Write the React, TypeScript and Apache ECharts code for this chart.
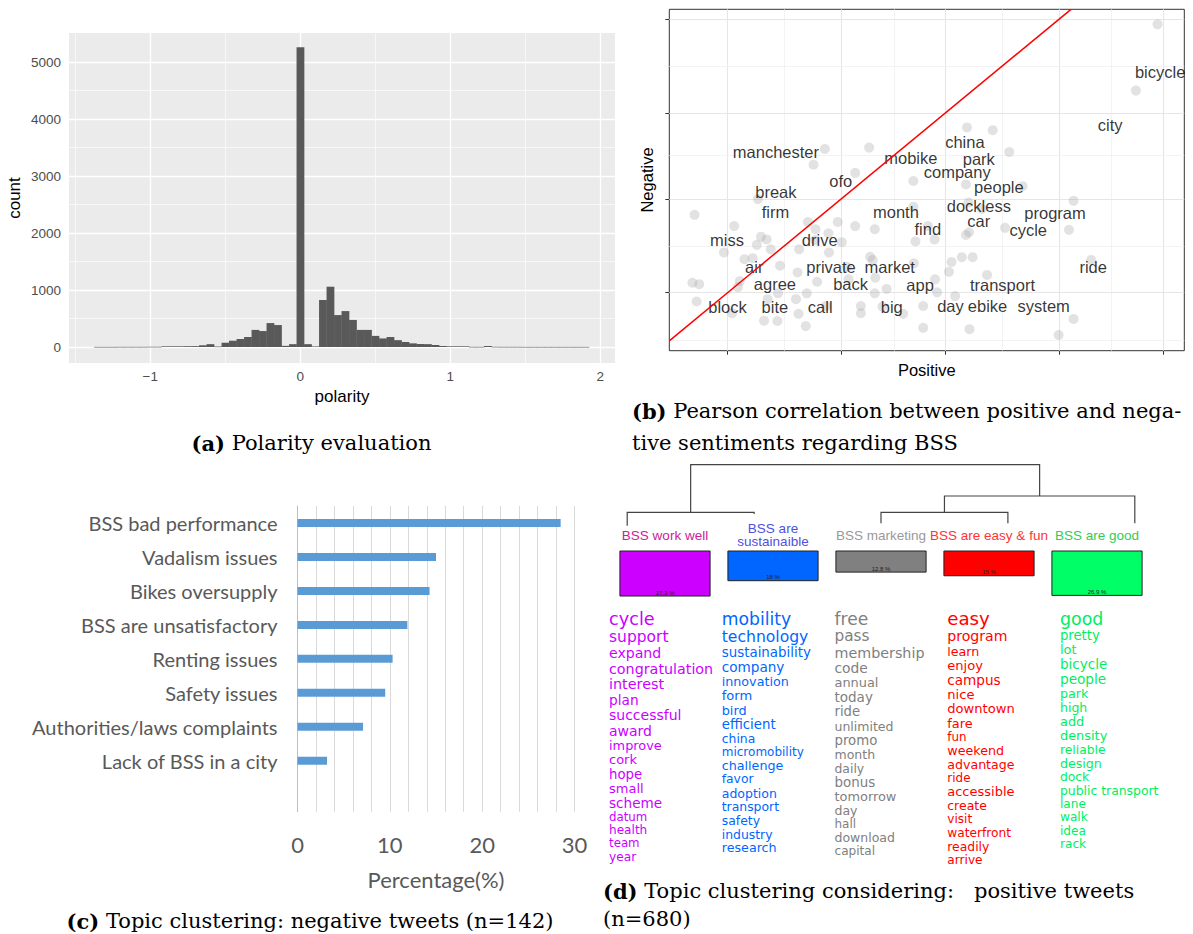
import React, { useEffect, useRef } from "react";
import * as echarts from "echarts";

const SANS = "'Liberation Sans', Arial, Helvetica, sans-serif";
const SERIF = "'DejaVu Serif', serif";
const WORD_FONT = "'DejaVu Sans', Verdana, sans-serif";
const EXCEL_FONT = "Lato, 'Open Sans', sans-serif";

// ---------------- (a) Polarity histogram ----------------
const polarityBins = [
  -1.35, -1.3, -1.25, -1.2, -1.15, -1.1, -1.05, -1, -0.95, -0.9, -0.85, -0.8, -0.75, -0.7, -0.65, -0.6, -0.55,
  -0.5, -0.45, -0.4, -0.35, -0.3, -0.25, -0.2, -0.15, -0.1, -0.05, 0, 0.05, 0.1, 0.15, 0.2, 0.25, 0.3, 0.35,
  0.4, 0.45, 0.5, 0.55, 0.6, 0.65, 0.7, 0.75, 0.8, 0.85, 0.9, 0.95, 1, 1.05, 1.1, 1.15, 1.2, 1.25, 1.3, 1.35,
  1.4, 1.45, 1.5, 1.55, 1.6, 1.65, 1.7, 1.75, 1.8, 1.85, 1.9,
];
const polarityCounts = [
  2, 2, 2, 3, 3, 3, 3, 4, 4, 12, 12, 12, 14, 15, 30, 50, 8, 75, 110, 140, 175, 300, 280, 420, 385, 20, 50,
  5260,
  50, 10, 825, 1058, 560, 630, 475, 300, 300, 195, 150, 175, 120, 88, 64, 53, 50, 35, 18, 12, 12, 12, 3, 3, 18,
  4, 3, 3, 3, 2, 2, 2, 2, 2, 2, 2, 2, 2,
];
const binWidth = 0.05;
const polarityMajor = [-1, 0, 1, 2];
const polarityMinor = [-1.5, -0.5, 0.5, 1.5];
const countMajor = [0, 1000, 2000, 3000, 4000, 5000];
const countMinor = [500, 1500, 2500, 3500, 4500];

// ---------------- (b) Positive vs negative scatter ----------------
const termPoints: [number, number][] = [
  [30.2, 59.1], [38.8, 59.5], [28.0, 54.5], [36.1, 52.1], [47.4, 49.7], [17.2, 44.4], [4.9, 39.8], [12.6, 36.5],
  [26.9, 37.7], [32.7, 37.7], [28.4, 35.6], [36.1, 36.5], [39.9, 35.6], [47.4, 42.2], [17.8, 33.4], [18.9, 32.6],
  [17.0, 31.0], [19.7, 29.7], [10.6, 28.8], [25.2, 29.7], [28.3, 32.4], [30.9, 34.4], [31.0, 28.8], [33.5, 31.8],
  [47.8, 32.0], [14.6, 26.8], [16.2, 27.1], [39.0, 27.5], [39.5, 26.6], [21.5, 24.9], [24.9, 22.9], [34.5, 24.6],
  [4.5, 19.9], [5.8, 19.5], [13.7, 20.4], [13.3, 18.6], [28.7, 20.2], [34.8, 20.9], [40.0, 21.4], [42.2, 18.1],
  [47.5, 25.6], [21.1, 16.8], [26.7, 16.8], [39.9, 16.8], [5.3, 14.4], [12.2, 11.0], [24.6, 15.1], [19.1, 15.1],
  [30.4, 13.1], [37.2, 13.1], [37.2, 11.0], [41.4, 12.9], [45.4, 10.8], [25.1, 10.8], [21.0, 8.7], [18.4, 8.8],
  [26.5, 7.2], [94.8, 95.6], [90.6, 76.2], [57.8, 65.4], [62.8, 64.6], [66.0, 58.2], [57.6, 48.7], [68.6, 48.2],
  [58.1, 43.4], [60.7, 41.5], [78.5, 43.9], [50.2, 36.5], [51.5, 32.6], [57.6, 33.9], [58.2, 34.7], [65.2, 36.0],
  [77.6, 35.4], [56.8, 27.4], [58.9, 27.4], [54.8, 26.0], [54.3, 23.1], [81.9, 26.6], [61.7, 22.2], [51.6, 20.9],
  [52.0, 17.1], [55.5, 16.0], [49.3, 13.1], [49.3, 6.7], [58.3, 6.3], [78.5, 9.3], [75.6, 4.6],
];
const termWords = [
  "bicycle", "city", "china", "mobike", "park", "company", "people", "dockless", "program", "car", "cycle", "find",
  "month", "ride", "transport", "app", "day", "ebike", "system", "market", "big", "private", "back", "call", "bite",
  "block", "agree", "air", "drive", "miss", "firm", "break", "ofo", "manchester",
];
const termWordPositive = [
  95.3, 85.6, 57.4, 46.9, 60.1, 55.9, 64.0, 60.1, 74.9, 60.1, 69.7, 50.2, 44.0, 82.3, 64.7, 48.7, 54.6, 61.8, 72.7,
  42.8, 43.2, 31.4, 35.2, 29.3, 20.5, 11.3, 20.5, 16.5, 29.2, 11.2, 20.6, 20.7, 33.3, 20.7,
];
const termWordNegative = [
  81.7, 66.1, 61.2, 56.4, 56.2, 52.3, 48.0, 42.5, 40.4, 38.1, 35.4, 35.6, 40.6, 24.6, 19.2, 19.2, 13.1, 13.1, 13.1,
  24.6, 12.9, 24.6, 19.5, 12.9, 12.9, 12.9, 19.5, 24.6, 32.4, 32.4, 40.5, 46.4, 49.8, 58.3,
];
const correlationLine: [number, number][] = [[0, 2.9], [78, 100]];
const positiveMajor = [11.26, 33.4, 53.59, 75.73, 95.92];
const positiveMinor = [22.4, 43.6, 64.7, 85.8];
const negativeMajor = [16.99, 44.35, 69.54, 97.16];
const negativeMinor = [3.13, 30.67, 57.12, 83.39];

// ---------------- (c) Negative topics ----------------
const negativeTopics = [
  "BSS bad performance", "Vadalism issues", "Bikes oversupply", "BSS are unsatisfactory", "Renting issues",
  "Safety issues", "Authorities/laws complaints", "Lack of BSS in a city", "",
];
const negativeShares = [28.5, 15.0, 14.3, 11.9, 10.3, 9.5, 7.1, 3.2, null];

// ---------------- (d) Positive topic clusters ----------------
const clusterNames = ["BSS work well", "BSS are\nsustainaible", "BSS marketing", "BSS are easy & fun", "BSS are good"];
const clusterShares = [27.3, 18, 12.8, 15, 26.9];
const clusterBoxColors = ["#CC00FF", "#0066FF", "#808080", "#FF0000", "#00FF66"];
const clusterLabelColors = ["#CC2299", "#5050E0", "#999999", "#FF3333", "#33CC55"];
const clusterWordColors = ["#CC00FF", "#0066FF", "#808080", "#FF0000", "#00EE5E"];
const clusterWords = [
  ["cycle", "support", "expand", "congratulation", "interest", "plan", "successful", "award", "improve", "cork", "hope",
    "small", "scheme", "datum", "health", "team", "year"],
  ["mobility", "technology", "sustainability", "company", "innovation", "form", "bird", "efficient", "china",
    "micromobility", "challenge", "favor", "adoption", "transport", "safety", "industry", "research"],
  ["free", "pass", "membership", "code", "annual", "today", "ride", "unlimited", "promo", "month", "daily", "bonus",
    "tomorrow", "day", "hall", "download", "capital"],
  ["easy", "program", "learn", "enjoy", "campus", "nice", "downtown", "fare", "fun", "weekend", "advantage", "ride",
    "accessible", "create", "visit", "waterfront", "readily", "arrive"],
  ["good", "pretty", "lot", "bicycle", "people", "park", "high", "add", "density", "reliable", "design", "dock",
    "public transport", "lane", "walk", "idea", "rack"],
];
const clusterWordWeights = [
  [17.7, 15.5, 14.1, 14.3, 14.4, 13.7, 14, 14, 12.9, 13, 13.3, 13, 13.6, 11.8, 12.1, 11.8, 12.2],
  [17.2, 15.6, 13.4, 13.6, 12.7, 13.1, 12.8, 13.3, 12.4, 12.0, 12.7, 12.3, 12.5, 12.4, 12.4, 12.4, 12.7],
  [17.1, 15.3, 14.3, 13.8, 12.9, 13.5, 13.2, 12.5, 13.3, 12.5, 12.4, 13.4, 12.9, 12.5, 12.0, 12.5, 12.1],
  [18.2, 14.1, 12.7, 13.1, 13.6, 13.1, 13.1, 12.9, 11.9, 12.7, 12.6, 12.0, 13.0, 12.5, 12.1, 12.2, 12.4, 12.2],
  [17.4, 13.2, 13.0, 13.5, 13.6, 12.7, 12.5, 12.9, 12.9, 12.3, 12.6, 12.3, 12.4, 12.1, 12.1, 12.1, 12.1],
];
// dendrogram: leaves 0..4; merges create nodes 5,6,7,8 as [childA, childB, height]
const dendroMerges: [number, number, number][] = [
  [0, 1, 1.34],
  [2, 3, 1.34],
  [6, 4, 2.97],
  [5, 7, 6.1],
];
const leafLabelTops = [0, 1.17, 0.24, 0.24, 0.24];

// ---------------- helpers ----------------
function gridLines(axis: "xAxis" | "yAxis", major: number[], minor: number[], color: string, majW: number, minW: number, minorColor?: string) {
  return [
    ...minor.map((v) => ({ [axis]: v, lineStyle: { color: minorColor || color, width: minW, type: "solid" } })),
    ...major.map((v) => ({ [axis]: v, lineStyle: { color, width: majW, type: "solid" } })),
  ];
}

function buildDendro() {
  const pos: number[] = [0, 1, 2, 3, 4];
  const hgt: number[] = leafLabelTops.slice();
  const segs: number[][] = [];
  dendroMerges.forEach(([a, b, h]) => {
    segs.push([pos[a], hgt[a], pos[b], hgt[b], h]);
    pos.push((pos[a] + pos[b]) / 2);
    hgt.push(h);
  });
  return segs;
}

const CAP_SIZE = 21;

function captionText(x: number, y: number, tag: string, body: string, align: string) {
  return {
    type: "text",
    x,
    y,
    style: {
      text: `{b|${tag}} ${body}`,
      fontFamily: SERIF,
      fontSize: CAP_SIZE,
      fill: "#000",
      align,
      verticalAlign: "middle",
      rich: { b: { fontFamily: SERIF, fontSize: CAP_SIZE, fontWeight: "bold", fill: "#000" } },
    },
  };
}

function plainCaption(x: number, y: number, text: string) {
  return {
    type: "text", x, y,
    style: { text, fontFamily: SERIF, fontSize: CAP_SIZE, fill: "#000", align: "left", verticalAlign: "middle" },
  };
}

function buildWordGraphics() {
  const els: any[] = [];
  const startX = 609;
  const colStep = 112.75;
  const startY = 618.5;
  const f = 1.1;
  clusterWords.forEach((words, ci) => {
    let y = startY;
    const w = clusterWordWeights[ci];
    words.forEach((word, k) => {
      if (k > 0) y += 0.5 * (w[k - 1] + w[k]) * f;
      els.push({
        type: "text",
        x: startX + ci * colStep,
        y,
        style: {
          text: word,
          fontFamily: WORD_FONT,
          fontSize: w[k],
          fill: clusterWordColors[ci],
          align: "left",
          verticalAlign: "middle",
        },
      });
    });
  });
  return els;
}

export default function App() {
  const ref = useRef<HTMLDivElement>(null);
  useEffect(() => {
    if (!ref.current) return;
    const chart = echarts.init(ref.current, null, { renderer: "svg" });
    const histData = polarityBins.map((b, i) => [b, polarityCounts[i]]);
    const labelData = termWords.map((w, i) => [termWordPositive[i], termWordNegative[i], w]);
    const option: any = {
      animation: false,
      backgroundColor: "#ffffff",
      textStyle: { fontFamily: SANS },
      grid: [
        { left: 69, top: 33, width: 546, height: 330, show: true, backgroundColor: "#EBEBEB", borderWidth: 0 },
        { left: 669.3, top: 9.3, width: 515, height: 341.4, show: true, backgroundColor: "#ffffff", borderColor: "#333333", borderWidth: 1 },
        { left: 297.5, top: 506, width: 277, height: 305.7 },
        { left: 611, top: 551, width: 540, height: 49.5 },
        { left: 627.2, top: 464.7, width: 507.6, height: 61 },
      ],
      xAxis: [
        {
          gridIndex: 0, type: "value", min: -1.542, max: 2.098,
          splitLine: { show: false }, axisLine: { show: false },
          axisTick: { show: true, customValues: polarityMajor, length: 4, lineStyle: { color: "#333333", width: 1 } },
          axisLabel: {
            customValues: polarityMajor, color: "#4D4D4D", fontSize: 13.5, margin: 6, fontFamily: SANS,
            formatter: (v: number) => String(v).replace("-", "\u2212"),
          },
          name: "polarity", nameLocation: "middle", nameGap: 25,
          nameTextStyle: { color: "#000", fontSize: 17, fontFamily: SANS },
        },
        {
          gridIndex: 1, type: "value", min: 0, max: 100,
          splitLine: { show: false }, axisLine: { show: false }, axisLabel: { show: false },
          axisTick: { show: true, customValues: positiveMajor, length: 4, lineStyle: { color: "#333333", width: 1 } },
          name: "Positive", nameLocation: "middle", nameGap: 11,
          nameTextStyle: { color: "#000", fontSize: 16.5, fontFamily: SANS },
        },
        {
          gridIndex: 2, type: "value", min: 0, max: 30, interval: 2,
          splitLine: { show: true, lineStyle: { color: "#D9D9D9", width: 1 } },
          axisLine: { show: false }, axisTick: { show: false },
          axisLabel: {
            color: "#595959", fontSize: 22, margin: 22, fontFamily: EXCEL_FONT,
            formatter: (v: number) => (v % 10 === 0 ? String(v) : ""),
          },
          name: "Percentage(%)", nameLocation: "middle", nameGap: 57,
          nameTextStyle: { color: "#595959", fontSize: 22, fontFamily: EXCEL_FONT },
        },
        { gridIndex: 3, type: "category", data: clusterNames, show: false },
        { gridIndex: 4, type: "value", min: 0, max: 4, show: false },
      ],
      yAxis: [
        {
          gridIndex: 0, type: "value", min: -280.7, max: 5508.8,
          splitLine: { show: false }, axisLine: { show: false },
          axisTick: { show: true, customValues: countMajor, length: 4, lineStyle: { color: "#333333", width: 1 } },
          axisLabel: {
            customValues: countMajor, color: "#4D4D4D", fontSize: 13.5, margin: 8, fontFamily: SANS,
            formatter: (v: number) => String(v),
          },
          name: "count", nameLocation: "middle", nameGap: 46, nameRotate: 90,
          nameTextStyle: { color: "#000", fontSize: 17, fontFamily: SANS },
        },
        {
          gridIndex: 1, type: "value", min: 0, max: 100,
          splitLine: { show: false }, axisLine: { show: false }, axisLabel: { show: false },
          axisTick: { show: true, customValues: negativeMajor, length: 4, lineStyle: { color: "#333333", width: 1 } },
          name: "Negative", nameLocation: "middle", nameGap: 14, nameRotate: 90,
          nameTextStyle: { color: "#000", fontSize: 16.5, fontFamily: SANS },
        },
        {
          gridIndex: 2, type: "category", data: negativeTopics, inverse: true,
          axisLine: { show: true, lineStyle: { color: "#BFBFBF", width: 1 } },
          axisTick: { show: false },
          axisLabel: { color: "#595959", fontSize: 20, margin: 20, fontFamily: EXCEL_FONT },
        },
        { gridIndex: 3, type: "value", min: 0, max: 30, inverse: true, show: false },
        { gridIndex: 4, type: "value", min: 0, max: 6.1, show: false },
      ],
      series: [
        {
          type: "line", xAxisIndex: 0, yAxisIndex: 0, data: [[0, 0]], showSymbol: false, z: 1,
          lineStyle: { opacity: 0 }, silent: true,
          markLine: {
            z: 1, silent: true, symbol: ["none", "none"], label: { show: false },
            data: [
              ...gridLines("xAxis", polarityMajor, polarityMinor, "#FFFFFF", 1.3, 0.6),
              ...gridLines("yAxis", countMajor, countMinor, "#FFFFFF", 1.3, 0.6),
            ],
          },
        },
        {
          type: "custom", xAxisIndex: 0, yAxisIndex: 0, z: 6, data: histData,
          renderItem: (params: any, api: any) => {
            const c = api.value(0);
            const v = api.value(1);
            const p0 = api.coord([c - binWidth / 2, v]);
            const p1 = api.coord([c + binWidth / 2, 0]);
            return {
              type: "rect",
              shape: { x: p0[0], y: p0[1], width: p1[0] - p0[0] + 0.3, height: Math.max(p1[1] - p0[1], 0.6) },
              style: { fill: "#595959" },
            };
          },
        },
        {
          type: "line", xAxisIndex: 1, yAxisIndex: 1, data: [[50, 50]], showSymbol: false, z: 1,
          lineStyle: { opacity: 0 }, silent: true,
          markLine: {
            z: 1, silent: true, symbol: ["none", "none"], label: { show: false },
            data: [
              ...gridLines("xAxis", positiveMajor, positiveMinor, "#E6E6E6", 1.1, 0.8, "#F0F0F0"),
              ...gridLines("yAxis", negativeMajor, negativeMinor, "#E6E6E6", 1.1, 0.8, "#F0F0F0"),
            ],
          },
        },
        {
          type: "scatter", xAxisIndex: 1, yAxisIndex: 1, z: 6, data: termPoints, symbolSize: 10,
          itemStyle: { color: "rgba(170,170,170,0.42)" }, silent: true,
        },
        {
          type: "scatter", xAxisIndex: 1, yAxisIndex: 1, z: 7, data: labelData, symbolSize: 1,
          itemStyle: { color: "rgba(0,0,0,0)" }, silent: true,
          label: {
            show: true, position: "inside", color: "#000", fontSize: 16.5, fontFamily: SANS,
            formatter: (p: any) => p.data[2],
          },
        },
        {
          type: "line", xAxisIndex: 1, yAxisIndex: 1, z: 8, data: correlationLine, showSymbol: false,
          lineStyle: { color: "#FF0000", width: 1.5 }, silent: true,
        },
        {
          type: "bar", xAxisIndex: 2, yAxisIndex: 2, data: negativeShares, barWidth: 8,
          itemStyle: { color: "#5B9BD5" }, silent: true,
        },
        {
          type: "custom", xAxisIndex: 3, yAxisIndex: 3, z: 3,
          data: clusterShares.map((s, i) => [i, s]),
          renderItem: (params: any, api: any) => {
            const i = params.dataIndex;
            const s = api.value(1);
            const top = api.coord([i, 0]);
            const bot = api.coord([i, s]);
            const bw = api.size([1, 0])[0] * 0.835;
            return {
              type: "group",
              children: [
                {
                  type: "rect",
                  shape: { x: top[0] - bw / 2, y: top[1], width: bw, height: bot[1] - top[1] },
                  style: { fill: clusterBoxColors[i], stroke: "#222", lineWidth: 1 },
                },
                {
                  type: "text",
                  style: {
                    text: `${s} %`, x: top[0], y: bot[1] - 3.5, fill: "#222", fontSize: 6, fontFamily: SANS,
                    align: "center", verticalAlign: "middle",
                  },
                },
                {
                  type: "text",
                  style: {
                    text: clusterNames[i], x: top[0], y: top[1] - 16, fill: clusterLabelColors[i], fontSize: 13.5,
                    fontFamily: SANS, align: "center", verticalAlign: "middle", lineHeight: 13,
                  },
                },
              ],
            };
          },
        },
        {
          type: "custom", xAxisIndex: 4, yAxisIndex: 4, z: 3,
          data: buildDendro(),
          encode: { x: [0, 2], y: [1, 3, 4] },
          renderItem: (params: any, api: any) => {
            const lx = api.value(0), lh = api.value(1), rx = api.value(2), rh = api.value(3), h = api.value(4);
            const pts = [api.coord([lx, lh]), api.coord([lx, h]), api.coord([rx, h]), api.coord([rx, rh])];
            return { type: "polyline", shape: { points: pts }, style: { stroke: "#444444", lineWidth: 1.2, fill: "none" } };
          },
        },
      ],
      graphic: [
        captionText(311.5, 443, "(a)", "Polarity evaluation", "center"),
        captionText(632, 411, "(b)", "Pearson correlation between positive and nega-", "left"),
        plainCaption(632, 443, "tive sentiments regarding BSS"),
        captionText(310, 921, "(c)", "Topic clustering: negative tweets (n=142)", "center"),
        captionText(603, 891, "(d)", "Topic clustering considering:   positive tweets", "left"),
        plainCaption(603, 919, "(n=680)"),
        ...buildWordGraphics(),
      ],
    };
    chart.setOption(option);
    return () => chart.dispose();
  }, []);
  return (
    <div
      ref={ref}
      style={{ position: "absolute", left: 0, top: 0, width: 1193, height: 934, background: "#fff" }}
    />
  );
}
